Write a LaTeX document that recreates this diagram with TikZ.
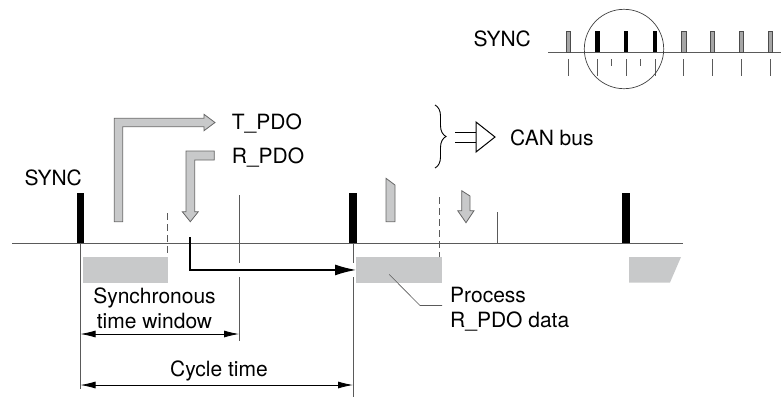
\documentclass[tikz,border=0pt]{standalone}
\usepackage{fontspec}
\setmainfont{TeX Gyre Heros}
\usepackage{xcolor}
\usetikzlibrary{arrows.meta,positioning,calc,decorations.pathreplacing}
\definecolor{pdogray}{HTML}{C8C9CA}
\definecolor{linegray}{HTML}{5A5A5A}

\begin{document}
\begin{tikzpicture}[x=1pt,y=-1pt,>=Latex,
  lbl/.style={font=\fontsize{21}{25}\selectfont,inner sep=0pt},
  thinline/.style={draw=linegray,line width=0.8pt},
  procbox/.style={fill=pdogray,draw=none,inner sep=0pt,anchor=north west,minimum height=25.5pt},
  pdoarrow/.style={fill=pdogray,draw=black!60,line width=0.8pt},
  graybar/.style={fill=black!35,draw=black!70,line width=0.6pt},
  dim/.style={{Latex[length=15pt,width=7pt]}-{Latex[length=15pt,width=7pt]},line width=0.8pt}]
  \useasboundingbox (0,0) rectangle (781,397);

  % main time axis and sync pulses
  \coordinate (axis start) at (12,243);
  \coordinate (axis end) at (683,243);
  \draw[thinline] (axis start) -- (axis end);
  \foreach \x/\n in {80.5/1,353/2,626/3}{
    \coordinate (sync\n) at (\x,243);
    \fill ($(sync\n)+(-3.7,0)$) rectangle ($(sync\n)+(3.7,-50.5)$);
  }
  \node[lbl,anchor=base east] (sync label) at (82,185) {SYNC};

  % markers on the axis
  \coordinate (win end) at (239,243);
  \draw[thinline] (sync1) -- ++(0,146);
  \draw[thinline] (sync2) -- ++(0,154);
  \draw[thinline] (win end) ++(0,-48) -- ++(0,146);
  \draw[thinline] (497,212) -- (497,243);
  \draw[thinline,dash pattern=on 7pt off 4pt] (167,213) -- (167,257);
  \draw[thinline,dash pattern=on 7pt off 4pt] (439,197) -- (439,257);

  % processing blocks
  \node[procbox,minimum width=85pt] (win box) at (83,257) {};
  \node[procbox,minimum width=85.5pt] (proc box) at (356,257) {};
  \fill[pdogray] (629,257) -- (681,257) -- (670,282.5) -- (629,282.5) -- cycle;

  % R_PDO to processing
  \coordinate (rpdo in) at (190,237);
  \draw[white,line width=14pt] (rpdo in |- proc box.west) -- (proc box.west);
  \draw[line width=1.3pt,-{Latex[length=21pt,width=11pt]}] (rpdo in) |- (proc box.west);

  % PDO arrows
  \draw[pdoarrow] (114.3,221.7) -- (114.3,118.3) -- (204,118.3) -- (204,114.3) -- (215,122.5)
    -- (204,130.7) -- (204,126.7) -- (122.7,126.7) -- (122.7,221.7) -- cycle;
  \draw[pdoarrow] (214.3,151) -- (186,151) -- (186,211.7) -- (182.3,211.7) -- (190.3,221.7)
    -- (198.3,211.7) -- (194.7,211.7) -- (194.7,160) -- (214.3,160) -- cycle;
  \node[lbl,anchor=base west] (tpdo label) at (231.7,129.3) {T\_PDO};
  \node[lbl,anchor=base west] (rpdo label) at (231.7,163.3) {R\_PDO};
  \draw[pdoarrow] (386,178.3) -- (395,185) -- (395,221.7) -- (386,221.7) -- cycle;
  \draw[pdoarrow] (461.7,190.7) -- (470,196) -- (470,210.7) -- (474,210.7) -- (466,222.7)
    -- (457.7,210.7) -- (461.7,210.7) -- cycle;

  % CAN bus legend
  \draw[line width=0.9pt,decorate,decoration={brace,amplitude=11pt}] (435,105) -- (435,168);
  \node[lbl,anchor=base west] (can label) at (510,145) {CAN bus};
  \coordinate (bus tip) at (495,137);
  \draw[line width=1pt] (455,132) -- (476,132) (455,142.5) -- (476,142.5);
  \draw[line width=1pt,fill=white] (476,122) -- (bus tip) -- (476,152) -- cycle;

  % time spans
  \draw[dim] (sync1 |- 0,334) -- (win end |- 0,334);
  \draw[dim] (sync1 |- 0,385) -- (sync2 |- 0,385);
  \node[lbl,align=center,anchor=north] (win label) at (154.5,287.5) {Synchronous\\time window};
  \node[lbl,anchor=base] (cycle label) at (219,376.5) {Cycle time};

  % process label
  \node[lbl,align=left,anchor=north west] (proc label) at (450,286.5) {Process\\R\_PDO data};
  \coordinate (lead bend) at (420,305.5);
  \draw[thinline,line width=0.6pt,shorten >=8pt] ($(proc box.center)+(-9.75,4.5)$) -- (lead bend) -- (lead bend -| proc label.west);

  % inset: sync train
  \node[lbl,anchor=base east] (inset label) at (531,46.7) {SYNC};
  \draw[thinline] (548,52) -- (781,52);
  \foreach \x in {568.5,683.7,712.5,741.3,770.1}{
    \draw[graybar] (\x-2.2,31) rectangle (\x+2.2,52);
  }
  \foreach \x in {597.3,626.1,654.9}{
    \fill (\x-2.2,30.7) rectangle (\x+2.2,52);
  }
  \foreach \x in {568.5,597.3,626.1,654.9,683.7,712.5,741.3,770.1}{
    \draw[thinline,line width=0.6pt] (\x,59.3) -- (\x,76);
  }
  \foreach \x in {611.7,640.5}{
    \draw[thinline,line width=0.6pt] (\x,59.3) -- (\x,66);
  }
  \draw[line width=0.7pt,black!75] (624,49) circle[radius=39.7];
\end{tikzpicture}
\end{document}
